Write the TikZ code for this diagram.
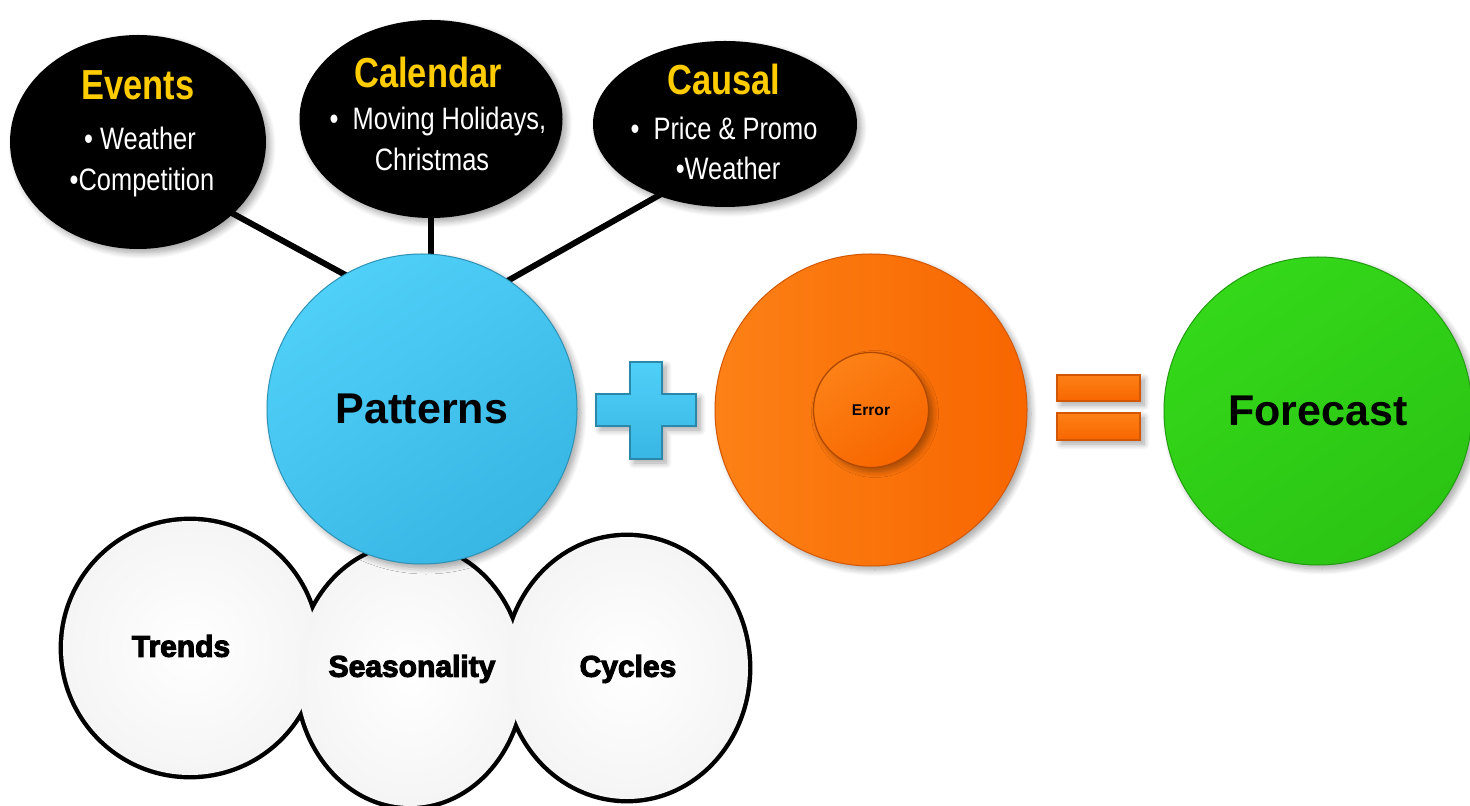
\documentclass[tikz,border=0pt]{standalone}
\usepackage{fontspec}
\setmainfont{Liberation Sans}
\newfontfamily\narrowfont[FakeStretch=0.82]{Liberation Sans}
\newfontfamily\heavyfont[BoldFeatures={FakeBold=3.6}]{Liberation Sans}
\usetikzlibrary{shapes.geometric,shadows.blur,backgrounds}

\definecolor{gold}{HTML}{FFCC00}
\definecolor{skyA}{HTML}{4FD0F8}
\definecolor{skyB}{HTML}{38B6E4}
\definecolor{orA}{HTML}{FC8116}
\definecolor{orB}{HTML}{F86600}
\definecolor{grA}{HTML}{34D819}
\definecolor{grB}{HTML}{2BC414}

\tikzset{
  softshadow/.style={blur shadow={shadow xshift=2pt, shadow yshift=-2pt,
      shadow blur steps=8, shadow blur radius=3pt, shadow opacity=35}},
  bubble/.style={ellipse, fill=black, inner sep=0pt, softshadow},
  title/.style={anchor=base, text=gold, font=\narrowfont\bfseries\fontsize{21}{21}\selectfont},
  item/.style={anchor=base, text=white, font=\narrowfont\fontsize{15.5}{15.5}\selectfont},
  ball/.style={circle, inner sep=0pt, softshadow,
      font=\bfseries\fontsize{21.5}{21.5}\selectfont},
  link/.style={line width=3pt, black, shorten <=-4pt, shorten >=-4pt},
  outline/.style={ellipse, inner sep=0pt, draw=black, line width=4.4pt},
  disc/.style={ellipse, inner sep=0pt, inner color=white, outer color=black!4},
  label/.style={font=\heavyfont\bfseries\fontsize{15}{15}\selectfont},
  bar/.style={rectangle, inner sep=0pt, top color=orA, bottom color=orB,
      draw=orB!85!black, line width=0.6pt, softshadow}
}

\begin{document}
\begin{tikzpicture}[x=0.5pt,y=-0.5pt]
\useasboundingbox (0,0) rectangle (1470,806);

% the three source bubbles
\node[bubble, minimum width=128pt, minimum height=107pt] (events) at (138,142) {};
\node[bubble, minimum width=131.5pt, minimum height=99pt] (calendar) at (431,119) {};
\node[bubble, minimum width=132pt, minimum height=83pt] (causal) at (725,124) {};

\node[title] (eventsT) at (138,100) {Events};
\node[item] (eventsA) at (140,150) {\textbullet\ Weather};
\node[item] (eventsB) at (142,191) {\textbullet Competition};

\node[title] (calendarT) at (428,88) {Calendar};
\node[item] (calendarA) at (438,130) {\textbullet\ \ Moving Holidays,};
\node[item] (calendarB) at (432,171) {Christmas};

\node[title] (causalT) at (724,95) {Causal};
\node[item] (causalA) at (724,140) {\textbullet\ \ Price \& Promo};
\node[item] (causalB) at (728,180) {\textbullet Weather};

% the pattern components below
\node[outline, minimum width=127pt, minimum height=127pt] (trendsRim) at (190,648) {};
\node[outline, minimum width=112pt, minimum height=130pt] (seasonRim) at (410,676) {};
\node[outline, minimum width=121pt, minimum height=131pt] (cyclesRim) at (627,668) {};
\node[disc, minimum width=127pt, minimum height=127pt] (trends) at (190,648) {};
\node[disc, minimum width=112pt, minimum height=130pt] (season) at (410,676) {};
\node[disc, minimum width=121pt, minimum height=131pt] (cycles) at (627,668) {};
\node[label] (trendsT) at (181,646) {Trends};
\node[label] (seasonT) at (412,669) {Seasonality};
\node[label] (cyclesT) at (628,669) {Cycles};

% patterns + error = forecast
\node[ball, minimum size=155pt, top color=skyA, bottom color=skyB, shading angle=35,
      draw=skyB!80!black, line width=0.5pt] (patterns) at (422,409) {Patterns};

\fill[top color=skyA, bottom color=skyB, draw=skyB!75!black, line width=0.6pt, softshadow]
  (630,362) -- (662,362) -- (662,394) -- (696,394) -- (696,426) -- (662,426)
  -- (662,459) -- (630,459) -- (630,426) -- (596,426) -- (596,394) -- (630,394) -- cycle;

\node[ball, minimum size=156pt, left color=orA, right color=orB,
      draw=orB!85!black, line width=0.5pt] (errorOuter) at (871,410) {};
\node[circle, inner sep=0pt, minimum size=57.5pt, top color=orA, bottom color=orB,
      shading angle=35, draw=orB!70!black, line width=0.6pt, softshadow,
      font=\bfseries\fontsize{7.8}{7.8}\selectfont] (error) at (871,410) {Error};

\node[bar, minimum width=41.5pt, minimum height=13pt] (eqTop) at (1098.5,388) {};
\node[bar, minimum width=41.5pt, minimum height=13.5pt] (eqBottom) at (1098.5,426.5) {};

\node[ball, minimum size=154pt, top color=grA, bottom color=grB, shading angle=35,
      draw=grB!80!black, line width=0.5pt] (forecast) at (1318,411) {Forecast};

% connectors from the bubbles into the patterns circle
\begin{scope}[on background layer]
  \draw[link] (events.-37) -- (patterns.120);
  \draw[link] (calendar.south) -- (calendar.south |- patterns.north);
  \draw[link] (causal.-133) -- (patterns.56);
\end{scope}
\end{tikzpicture}
\end{document}
